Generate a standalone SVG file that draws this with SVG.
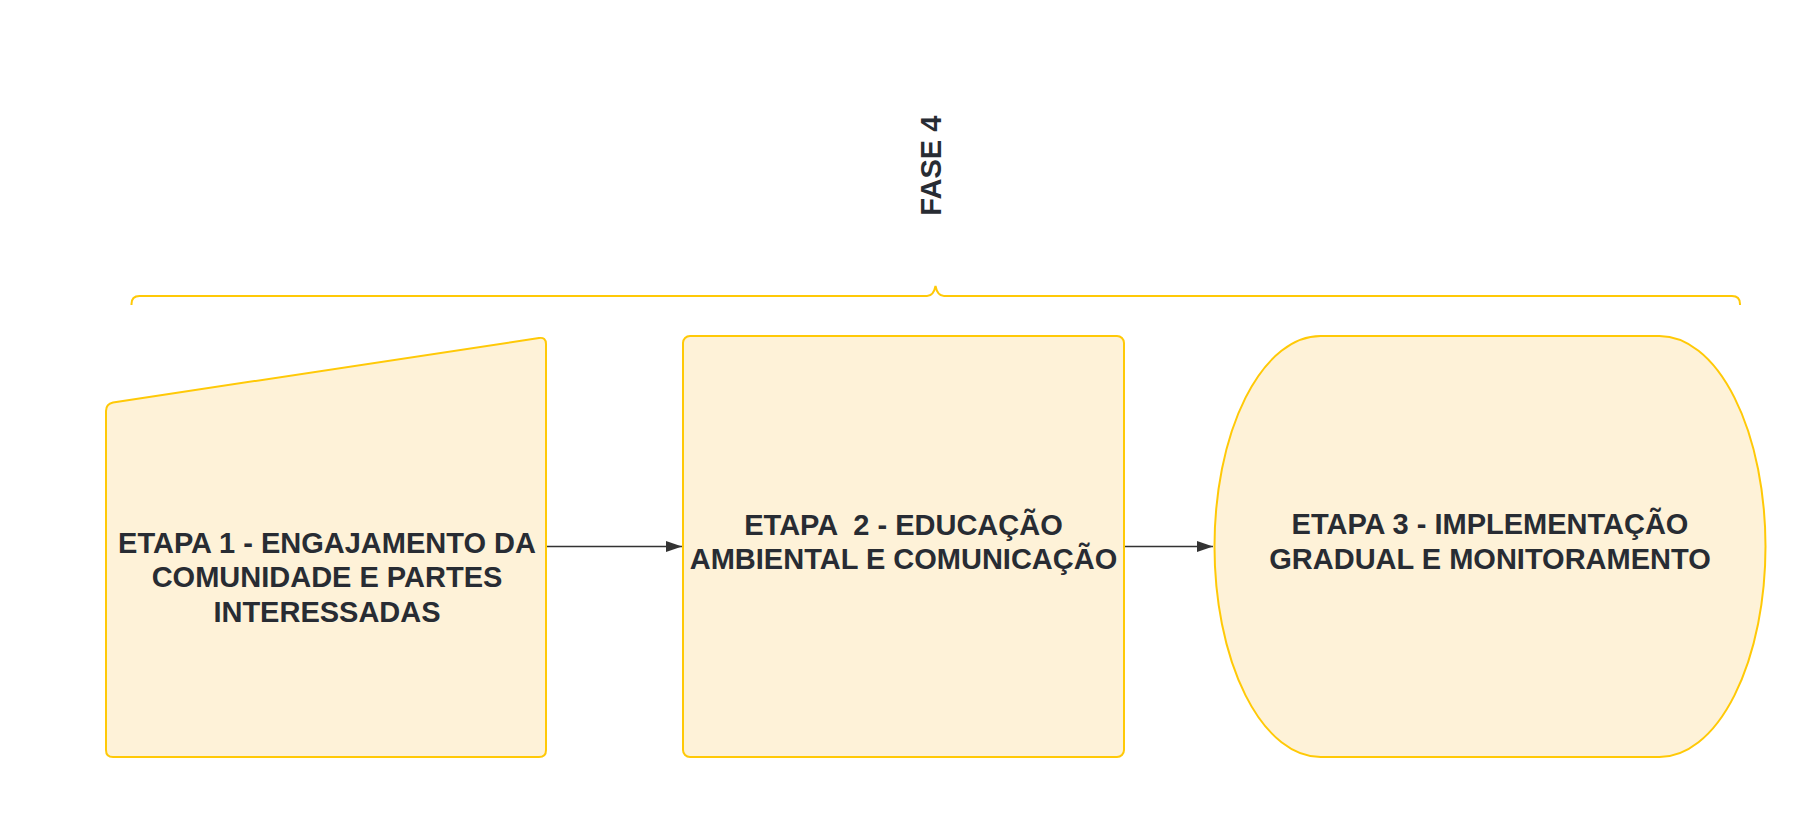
<svg xmlns="http://www.w3.org/2000/svg" width="1795" height="816" viewBox="0 0 1795 816">
  <defs>
    <style>
      .node { fill: #FEF2D8; stroke: #FFC907; stroke-width: 2; }
      .brace { fill: none; stroke: #FFC907; stroke-width: 2; }
      .lbl { font-family: "Liberation Sans", Arial, sans-serif; font-weight: bold; font-size: 29px; fill: #282C33; text-anchor: middle; }
      .conn { stroke: #333333; stroke-width: 1.3; fill: none; }
    </style>
    <marker id="arrow" viewBox="0 0 16 11" refX="16" refY="5.5" markerWidth="16" markerHeight="11" markerUnits="userSpaceOnUse" orient="auto">
      <path d="M0,0 L16,5.5 L0,11 Z" fill="#333333"/>
    </marker>
  </defs>
  <rect width="1795" height="816" fill="#FFFFFF"/>

  <g id="phase-label">
    <text class="lbl" transform="translate(940.7,165.7) rotate(-90)">FASE 4</text>
  </g>

  <g id="brace">
    <path class="brace" d="M131.5,305 L131.5,304 Q131.5,296 139.5,296 L927,296 Q933.5,296 935.5,286 Q937.5,296 944,296 L1732,296 Q1740,296 1740,304 L1740,305"/>
  </g>

  <g id="connectors">
    <line class="conn" x1="547" y1="546.5" x2="682" y2="546.5" marker-end="url(#arrow)"/>
    <line class="conn" x1="1125" y1="546.5" x2="1213" y2="546.5" marker-end="url(#arrow)"/>
  </g>

  <g id="etapa1">
    <path class="node" d="M106,411 Q106,404 113,402.5 L539,338 Q546,337 546,344 L546,750 Q546,757 539,757 L113,757 Q106,757 106,750 Z"/>
    <text class="lbl" x="327" y="552.7">ETAPA 1 - ENGAJAMENTO DA</text>
    <text class="lbl" x="327" y="587">COMUNIDADE E PARTES</text>
    <text class="lbl" x="327" y="621.7">INTERESSADAS</text>
  </g>

  <g id="etapa2">
    <rect class="node" x="683" y="336" width="441" height="421" rx="7" ry="7"/>
    <text class="lbl" x="903.5" y="535" xml:space="preserve">ETAPA  2 - EDUCAÇÃO</text>
    <text class="lbl" x="903.5" y="569.3">AMBIENTAL E COMUNICAÇÃO</text>
  </g>

  <g id="etapa3">
    <path class="node" d="M1320.5,336 L1659.5,336 A106,210.5 0 0 1 1659.5,757 L1320.5,757 A106,210.5 0 0 1 1320.5,336 Z"/>
    <text class="lbl" x="1490" y="534">ETAPA 3 - IMPLEMENTAÇÃO</text>
    <text class="lbl" x="1490" y="569.3">GRADUAL E MONITORAMENTO</text>
  </g>
</svg>
